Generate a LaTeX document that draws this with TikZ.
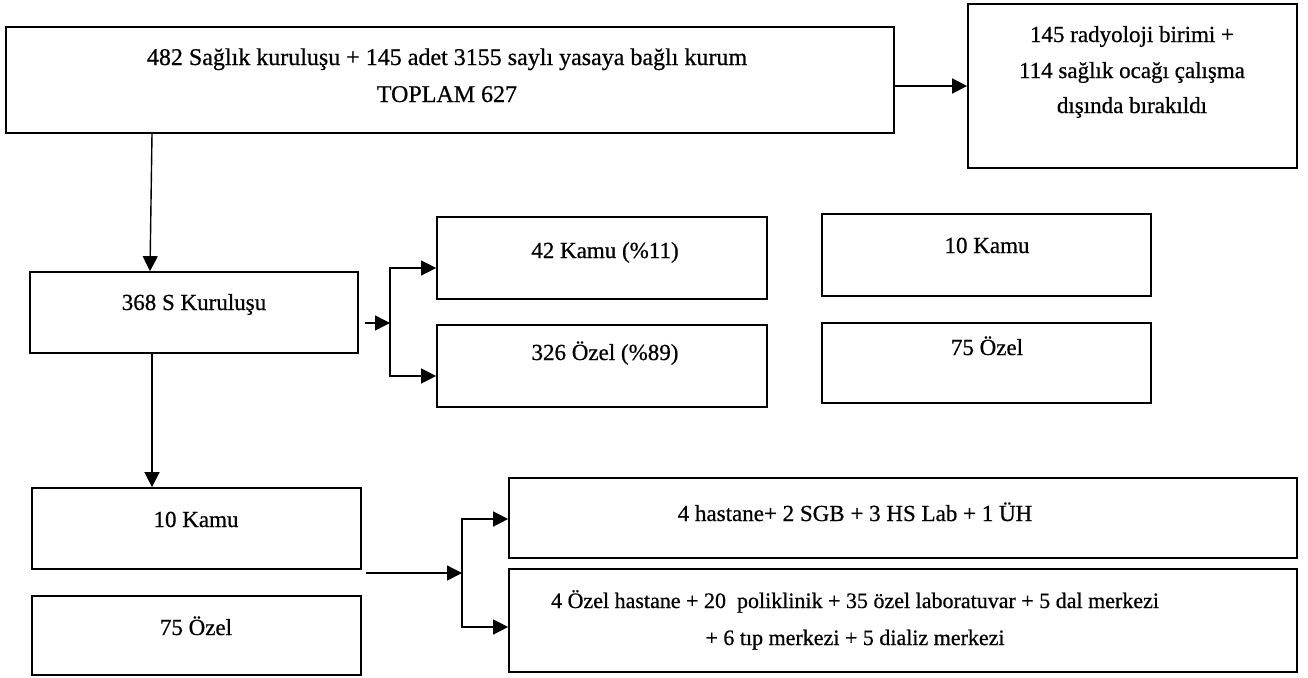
\documentclass[tikz,border=0pt]{standalone}
\usepackage{fontspec}
\setmainfont{Liberation Serif}[BoldFont={Liberation Serif},BoldFeatures={FakeBold=0.7}]
\usetikzlibrary{arrows.meta}
\begin{document}
\begin{tikzpicture}[x=1pt,y=-1pt,
  box/.style={draw, line width=1.7pt, inner sep=0pt},
  lbl/.style={anchor=base, inner sep=0pt, font=\fontsize{23}{27}\selectfont\bfseries},
  conn/.style={line width=1.4pt},
  arr/.style={conn, -{Triangle[length=15pt,width=15pt]}}]
\useasboundingbox (0,0) rectangle (1308,677);

% boxes
\node[box, minimum width=888, minimum height=106] (top) at (450,80) {};
\node[box, minimum width=329, minimum height=164] (excl) at (1132.5,86) {};
\node[box, minimum width=328, minimum height=81] (s368) at (194,312.5) {};
\node[box, minimum width=330, minimum height=82] (k42) at (602,258) {};
\node[box, minimum width=330, minimum height=82] (o326) at (602,366) {};
\node[box, minimum width=329, minimum height=82] (k10r) at (986.5,255) {};
\node[box, minimum width=329, minimum height=80] (o75r) at (986.5,363) {};
\node[box, minimum width=329, minimum height=81] (k10l) at (196.5,528.5) {};
\node[box, minimum width=329, minimum height=79] (o75l) at (196.5,635.5) {};
\node[box, minimum width=788, minimum height=80] (hast) at (903,518) {};
\node[box, minimum width=788, minimum height=103] (ozh) at (903,620.5) {};

% texts
\node[lbl, font=\fontsize{24}{28}\selectfont\bfseries] (t1a) at (447,65) {482 Sağlık kuruluşu + 145 adet 3155 saylı yasaya bağlı kurum};
\node[lbl, font=\fontsize{24}{28}\selectfont\bfseries] (t1b) at (447,102) {TOPLAM 627};
\node[lbl] (t2a) at (1132,42) {145 radyoloji birimi +};
\node[lbl] (t2b) at (1132,78) {114 sağlık ocağı çalışma};
\node[lbl] (t2c) at (1132,113) {dışında bırakıldı};
\node[lbl] (t3) at (194,310) {368 S Kuruluşu};
\node[lbl] (t4) at (605,258) {42 Kamu (\%11)};
\node[lbl] (t5) at (605,360) {326 Özel (\%89)};
\node[lbl] (t6) at (987,253) {10 Kamu};
\node[lbl] (t7) at (987,355) {75 Özel};
\node[lbl] (t8) at (196,527) {10 Kamu};
\node[lbl] (t9) at (196,635) {75 Özel};
\node[lbl] (t10) at (855,521) {4 hastane+ 2 SGB + 3 HS Lab + 1 ÜH};
\node[lbl, font=\fontsize{22}{26}\selectfont\bfseries] (t11a) at (855,608) {4 Özel hastane + 20\ \ poliklinik + 35 özel laboratuvar + 5 dal merkezi};
\node[lbl, font=\fontsize{22}{26}\selectfont\bfseries] (t11b) at (855,645) {+ 6 tıp merkezi + 5 dializ merkezi};

% connectors
\draw[arr] (top.east |- excl.west) -- (excl.west);
\draw[arr] (top.south -| 152,0) -- (s368.north -| 150,0);
\draw[arr] (s368.south -| 152,0) -- (k10l.north -| 152,0);

\coordinate (sout) at (365,323);
\coordinate (br1) at (390,323);
\draw[arr] (sout) -- (br1);
\draw[arr] (br1) |- (k42.west |- 0,268);
\draw[arr] (br1) |- (o326.west |- 0,376);

\coordinate (kout) at (366,573);
\coordinate (br2) at (462,573);
\draw[arr] (kout) -- (br2);
\draw[arr] (br2) |- (hast.west |- 0,519);
\draw[arr] (br2) |- (ozh.west |- 0,627);
\end{tikzpicture}
\end{document}
